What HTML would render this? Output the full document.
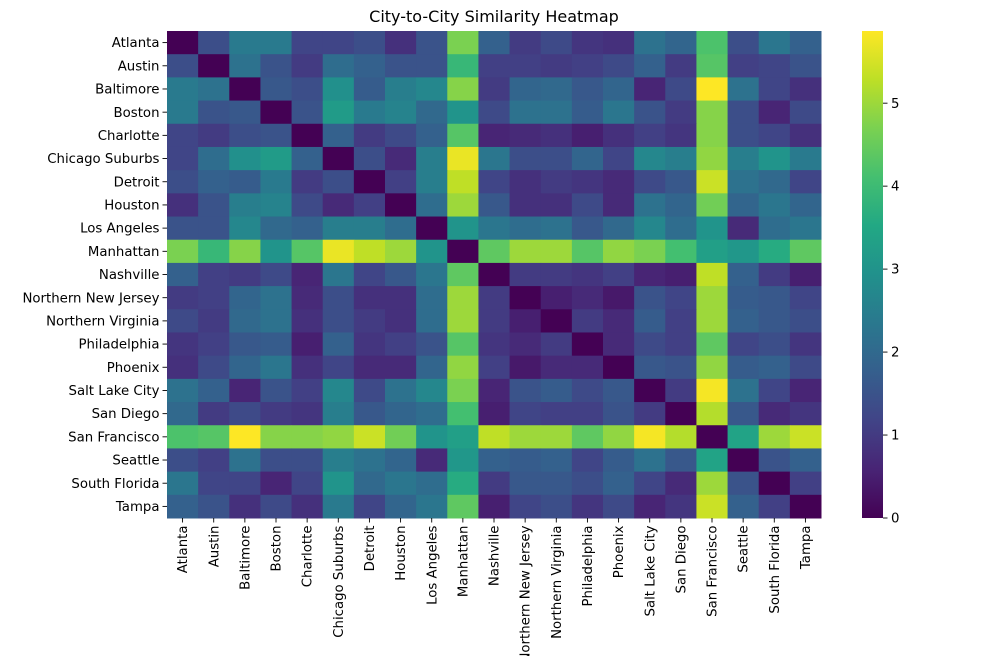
<!DOCTYPE html>
<html><head><meta charset="utf-8"><style>
body{margin:0;background:#fff;}
svg text{font-family:"DejaVu Sans","Liberation Sans",sans-serif;font-size:13.3px;fill:#000;}
</style></head><body>
<svg id="chart" width="999" height="656" xmlns="http://www.w3.org/2000/svg">
<text x="494" y="22" text-anchor="middle" style="font-size:16px">City-to-City Similarity Heatmap</text>
<g id="cells"></g>
<g id="yaxis"></g>
<g id="xaxis"></g>
<defs><linearGradient id="vg" x1="0" y1="1" x2="0" y2="0"></linearGradient></defs>
<g id="cbar"></g>
</svg>
<script>
const cities = ["Atlanta","Austin","Baltimore","Boston","Charlotte","Chicago Suburbs","Detroit","Houston","Los Angeles","Manhattan","Nashville","Northern New Jersey","Northern Virginia","Philadelphia","Phoenix","Salt Lake City","San Diego","San Francisco","Seattle","South Florida","Tampa"];
const values = [
[0,1.4,2.4,2.4,1.2,1.2,1.4,0.8,1.5,4.7,1.8,1.0,1.3,0.9,0.8,2.2,1.9,4.2,1.4,2.3,1.8],
[1.4,0,2.2,1.5,1.0,2.1,1.8,1.5,1.5,3.9,1.1,1.1,1.0,1.1,1.3,1.8,1.0,4.3,1.1,1.2,1.5],
[2.4,2.2,0,1.6,1.4,2.9,1.7,2.5,2.7,4.8,1.0,1.9,2.0,1.6,1.9,0.6,1.3,5.9,2.2,1.2,0.8],
[2.4,1.5,1.6,0,1.5,3.2,2.4,2.6,2.0,3.0,1.3,2.2,2.2,1.7,2.3,1.5,1.0,4.8,1.4,0.6,1.3],
[1.2,1.0,1.4,1.5,0,1.8,1.0,1.3,1.8,4.3,0.6,0.7,0.8,0.5,0.8,1.1,0.9,4.8,1.4,1.2,0.8],
[1.2,2.1,2.9,3.2,1.8,0,1.4,0.7,2.5,5.7,2.3,1.4,1.4,1.9,1.2,2.7,2.5,4.9,2.5,3.0,2.4],
[1.4,1.8,1.7,2.4,1.0,1.4,0,1.1,2.5,5.3,1.2,0.8,1.0,0.9,0.7,1.3,1.6,5.4,2.2,2.0,1.2],
[0.8,1.5,2.5,2.6,1.3,0.7,1.1,0,2.1,5.0,1.6,0.8,0.8,1.3,0.7,2.2,1.9,4.6,1.9,2.3,1.9],
[1.5,1.5,2.7,2.0,1.8,2.5,2.5,2.1,0,3.0,2.3,2.1,2.2,1.6,2.0,2.7,2.1,3.0,0.7,2.1,2.3],
[4.7,3.9,4.8,3.0,4.3,5.7,5.3,5.0,3.0,0,4.4,5.0,5.0,4.3,4.9,4.7,4.1,3.3,3.1,3.6,4.4],
[1.8,1.1,1.0,1.3,0.6,2.3,1.2,1.6,2.3,4.4,0,1.0,1.0,0.9,1.1,0.6,0.5,5.3,1.8,1.0,0.5],
[1.0,1.1,1.9,2.2,0.7,1.4,0.8,0.8,2.1,5.0,1.0,0,0.5,0.7,0.4,1.5,1.2,5.0,1.7,1.6,1.2],
[1.3,1.0,2.0,2.2,0.8,1.4,1.0,0.8,2.1,5.0,1.0,0.5,0,1.0,0.7,1.7,1.1,5.0,1.8,1.6,1.4],
[0.9,1.1,1.6,1.7,0.5,1.8,0.9,1.1,1.5,4.3,0.9,0.7,1.0,0,0.7,1.3,1.1,4.4,1.2,1.4,0.9],
[0.8,1.3,1.9,2.3,0.8,1.2,0.7,0.7,1.9,4.9,1.1,0.4,0.7,0.7,0,1.6,1.5,4.9,1.7,1.8,1.3],
[2.2,1.8,0.6,1.5,1.1,2.7,1.3,2.2,2.7,4.7,0.6,1.5,1.7,1.3,1.6,0,1.0,5.8,2.2,1.2,0.6],
[2.0,1.0,1.3,1.0,0.9,2.5,1.6,1.9,2.1,4.1,0.5,1.2,1.1,1.1,1.5,1.0,0,5.2,1.6,0.7,0.9],
[4.2,4.3,5.9,4.8,4.8,4.9,5.4,4.6,3.0,3.3,5.3,5.0,5.0,4.4,4.9,5.8,5.2,0,3.4,5.0,5.4],
[1.4,1.1,2.2,1.4,1.4,2.5,2.2,1.9,0.7,3.1,1.8,1.7,1.8,1.2,1.7,2.2,1.6,3.4,0,1.5,1.8],
[2.3,1.2,1.2,0.6,1.2,3.0,2.0,2.3,2.1,3.6,1.0,1.6,1.6,1.4,1.8,1.2,0.7,5.0,1.5,0,1.1],
[1.8,1.5,0.8,1.3,0.8,2.4,1.2,1.9,2.3,4.4,0.5,1.2,1.4,0.9,1.3,0.6,0.9,5.4,1.8,1.1,0]
];
const cbarTicks = [0,1,2,3,4,5];
const vmin = 0, vmax = 5.87;

const VIR = ["#440154","#482475","#414487","#355f8d","#2a788e","#21918c","#22a884","#44bf70","#7ad151","#bddf26","#fde725"];
function hex(h){return [1,3,5].map(i=>parseInt(h.substr(i,2),16));}
function viridis(t){t=Math.max(0,Math.min(1,t));const p=t*(VIR.length-1);const i=Math.min(Math.floor(p),VIR.length-2);const f=p-i;const a=hex(VIR[i]),b=hex(VIR[i+1]);return "rgb("+a.map((v,k)=>Math.round(v+(b[k]-v)*f)).join(",")+")";}
const NS="http://www.w3.org/2000/svg";
function mk(tag,attrs,parent){const e=document.createElementNS(NS,tag);for(const k in attrs)e.setAttribute(k,attrs[k]);parent.appendChild(e);return e;}
const L=167,T=31,W=654,H=487;
const n=cities.length, cw=W/n, ch=H/n;
const xPos=i=>L+i*cw, yPos=i=>T+i*ch;
const cells=document.getElementById('cells');
values.forEach((row,r)=>row.forEach((v,c)=>{
  const el=mk('rect',{x:xPos(c),y:yPos(r),width:cw+0.5,height:ch+0.5,fill:viridis((v-vmin)/(vmax-vmin))},cells);
  
  
}));
const ya=document.getElementById('yaxis'), xa=document.getElementById('xaxis');
cities.forEach((name,i)=>{
  const y=yPos(i)+ch/2;
  mk('line',{x1:L-4.5,x2:L,y1:y,y2:y,stroke:'#000','stroke-width':0.9},ya);
  const t=mk('text',{x:L-7.5,y:y+4.6,'text-anchor':'end'},ya);
  t.textContent=name;
  
  
  const x=xPos(i)+cw/2;
  mk('line',{x1:x,x2:x,y1:T+H,y2:T+H+4.5,stroke:'#000','stroke-width':0.9},xa);
  const tx=mk('text',{x:0,y:0,'text-anchor':'end',transform:'translate('+(x+4.6)+','+(T+H+7.5)+') rotate(-90)'},xa);
  tx.textContent=name;
  
  
});
// colorbar
const grad=document.getElementById('vg');
VIR.forEach((c,i)=>mk('stop',{offset:(i/(VIR.length-1)),'stop-color':c},grad));
const cb=document.getElementById('cbar');
const CX=862,CW=21;
const cy=v=>T+H-(v-vmin)/(vmax-vmin)*H;
mk('rect',{x:CX,y:T,width:CW,height:H,fill:'url(#vg)'},cb);
cbarTicks.forEach(v=>{
  const y=cy(v);
  mk('line',{x1:CX+CW,x2:CX+CW+4.5,y1:y,y2:y,stroke:'#000','stroke-width':0.9},cb);
  const t=mk('text',{x:CX+CW+8,y:y+4.6},cb);
  t.textContent=v;
  
  
});
</script>
</body></html>
